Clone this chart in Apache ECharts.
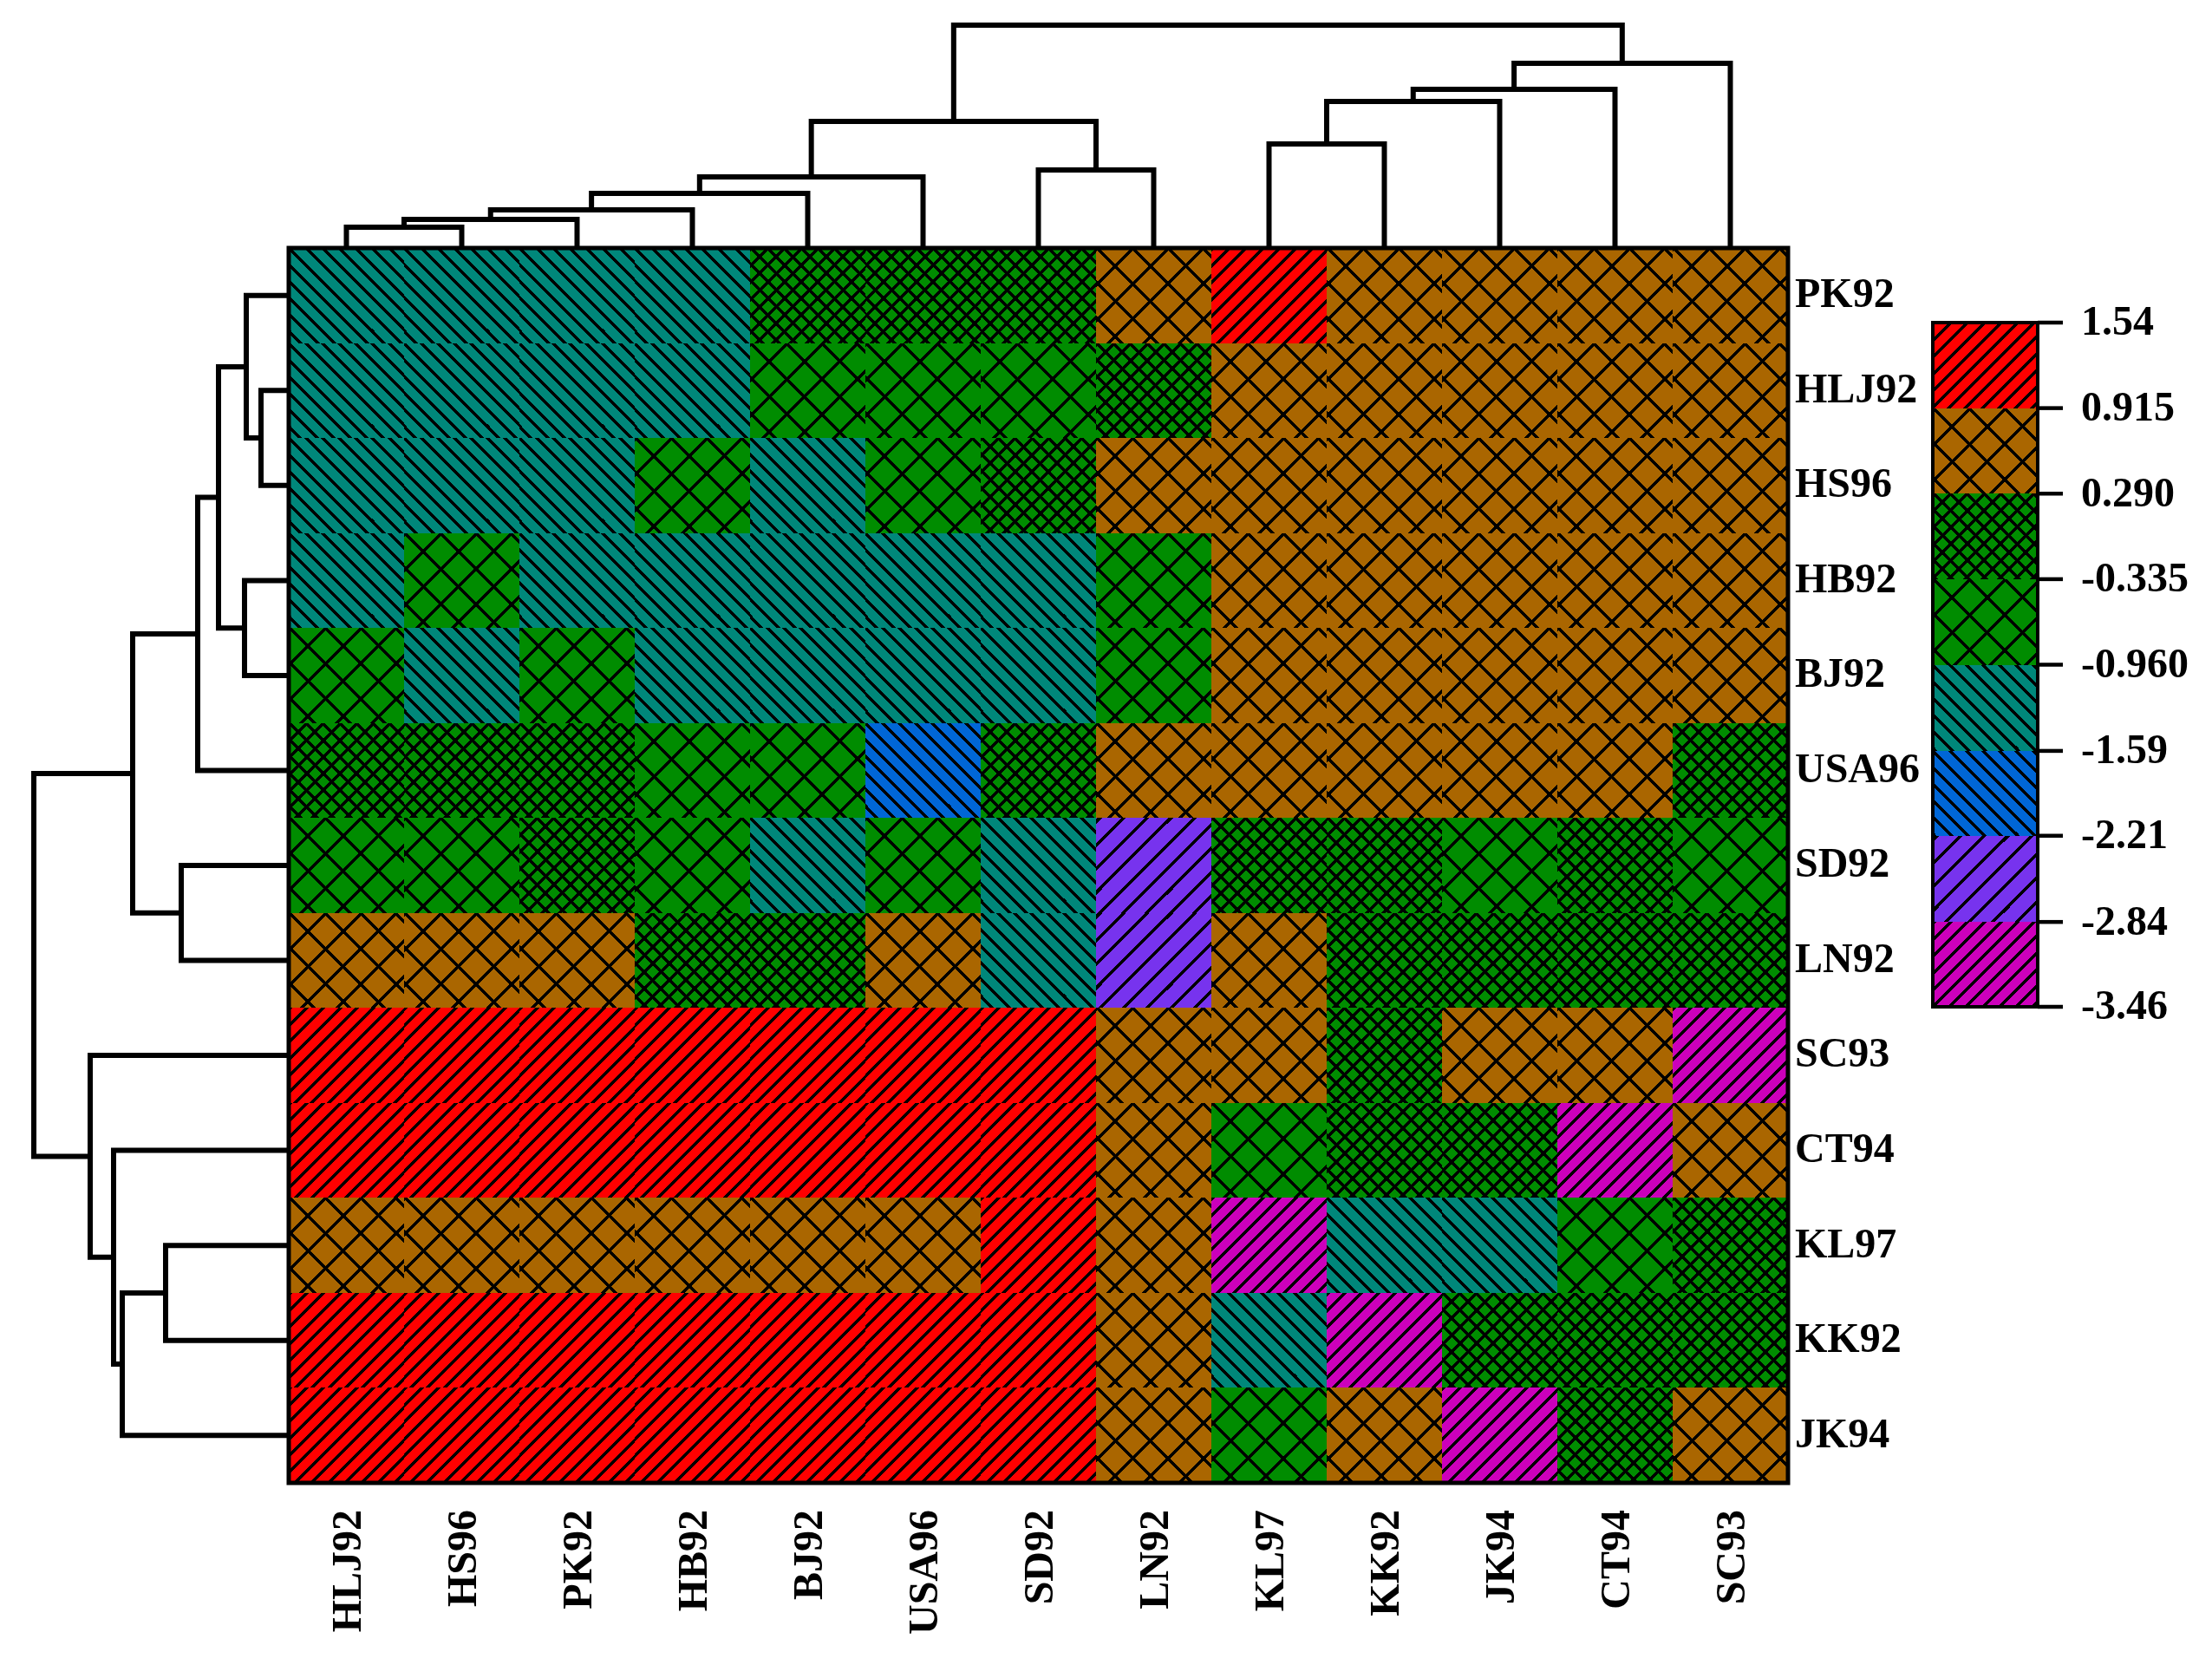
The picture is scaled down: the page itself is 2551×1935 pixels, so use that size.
<!DOCTYPE html>
<html>
<head>
<meta charset="utf-8">
<title>Clustered heatmap</title>
<script src="https://cdn.jsdelivr.net/npm/echarts@6/dist/echarts.min.js"></script>
<style>
    html, body { margin: 0; padding: 0; background: #fff; }
    #chart { width: 2551px; height: 1935px; }
</style>
</head>
<body>
<div id="chart"></div>
<script>
// column and row order of the heatmap
const columnNames = ['HLJ92', 'HS96', 'PK92', 'HB92', 'BJ92', 'USA96', 'SD92', 'LN92', 'KL97', 'KK92', 'JK94', 'CT94', 'SC93'];
const rowNames = ['PK92', 'HLJ92', 'HS96', 'HB92', 'BJ92', 'USA96', 'SD92', 'LN92', 'SC93', 'CT94', 'KL97', 'KK92', 'JK94'];

// colour key, top to bottom
const legendTicks = [1.54, 0.915, 0.29, -0.335, -0.96, -1.59, -2.21, -2.84, -3.46];
const legendLabels = ['1.54', '0.915', '0.290', '-0.335', '-0.960', '-1.59', '-2.21', '-2.84', '-3.46'];

// cell values, only the key band can be read from the picture so these are band estimates
const cellValues = [
    [-1.27, -1.27, -1.27, -1.27, -0.02, -0.02, -0.02, 0.6, 1.2, 0.6, 0.6, 0.6, 0.6],
    [-1.27, -1.27, -1.27, -1.27, -0.65, -0.65, -0.65, -0.02, 0.6, 0.6, 0.6, 0.6, 0.6],
    [-1.27, -1.27, -1.27, -0.65, -1.27, -0.65, -0.02, 0.6, 0.6, 0.6, 0.6, 0.6, 0.6],
    [-1.27, -0.65, -1.27, -1.27, -1.27, -1.27, -1.27, -0.65, 0.6, 0.6, 0.6, 0.6, 0.6],
    [-0.65, -1.27, -0.65, -1.27, -1.27, -1.27, -1.27, -0.65, 0.6, 0.6, 0.6, 0.6, 0.6],
    [-0.02, -0.02, -0.02, -0.65, -0.65, -1.9, -0.02, 0.6, 0.6, 0.6, 0.6, 0.6, -0.02],
    [-0.65, -0.65, -0.02, -0.65, -1.27, -0.65, -1.27, -2.52, -0.02, -0.02, -0.65, -0.02, -0.65],
    [0.6, 0.6, 0.6, -0.02, -0.02, 0.6, -1.27, -2.52, 0.6, -0.02, -0.02, -0.02, -0.02],
    [1.2, 1.2, 1.2, 1.2, 1.2, 1.2, 1.2, 0.6, 0.6, -0.02, 0.6, 0.6, -3.15],
    [1.2, 1.2, 1.2, 1.2, 1.2, 1.2, 1.2, 0.6, -0.65, -0.02, -0.02, -3.15, 0.6],
    [0.6, 0.6, 0.6, 0.6, 0.6, 0.6, 1.2, 0.6, -3.15, -1.27, -1.27, -0.65, -0.02],
    [1.2, 1.2, 1.2, 1.2, 1.2, 1.2, 1.2, 0.6, -1.27, -3.15, -0.02, -0.02, -0.02],
    [1.2, 1.2, 1.2, 1.2, 1.2, 1.2, 1.2, 0.6, -0.65, 0.6, -3.15, -0.02, 0.6]
];

// dendrogram merges: [child a, child b, height]
// child >= 0 is a leaf index, child < 0 is merge number -child (1-based)
const topMerges = [
    [0, 1, 24], [-1, 2, 33], [-2, 3, 44], [-3, 4, 63], [-4, 5, 82], [6, 7, 90],
    [-5, -6, 146], [8, 9, 120], [-8, 10, 169], [-9, 11, 183], [-10, 12, 213], [-7, -11, 257]
];
const leftMerges = [
    [1, 2, 32], [0, -1, 49], [3, 4, 51], [-2, -3, 81], [-4, 5, 105], [6, 7, 124],
    [-5, -6, 180], [10, 11, 142], [-8, 12, 192], [9, -9, 202], [8, -10, 229], [-7, -11, 294]
];

// key band styles, top band first
const bandColors = ['#ff0000', '#aa6600', '#008c00', '#008c00', '#00877a', '#0066d6', '#7733ee', '#cc00bb'];
const bandHatches = [
    { dir: 'up', period: 19.2, count: 5, phase: 1 },
    { dir: 'cross', period: 40.67, count: 3, phase: 1.3 },
    { dir: 'cross', period: 19.2, count: 5, phase: 1 },
    { dir: 'cross', period: 40.67, count: 3, phase: 1.3 },
    { dir: 'down', period: 19.2, count: 5, phase: 0.5 },
    { dir: 'down', period: 19.2, count: 5, phase: 0.5 },
    { dir: 'up', period: 27.33, count: 3, phase: 3.5 },
    { dir: 'up', period: 19.2, count: 5, phase: 1 }
];

const FONT = '"Liberation Serif", "Times New Roman", serif';
const HATCH_RUN = 5; // horizontal width of a hatch line in px
const KEY_TICK_END = 1.24; // key tick end on the key's 0..1 x axis

// draws a repeatable hatch tile pixel by pixel, the original is not anti-aliased
function makeTile(color, hatch) {
    const size = Math.round(hatch.period * hatch.count);
    const canvas = document.createElement('canvas');
    canvas.width = size;
    canvas.height = size;
    const ctx = canvas.getContext('2d');
    ctx.fillStyle = color;
    ctx.fillRect(0, 0, size, size);
    ctx.fillStyle = '#000';
    const period = size / hatch.count;
    const onLine = v => {
        const m = ((v - hatch.phase + HATCH_RUN / 2) % period + period) % period;
        return m < HATCH_RUN;
    };
    for (let y = 0; y < size; y++) {
        for (let x = 0; x < size; x++) {
            const up = onLine(x + y);
            const down = onLine(x - y);
            if ((hatch.dir !== 'down' && up) || (hatch.dir !== 'up' && down)) {
                ctx.fillRect(x, y, 1, 1);
            }
        }
    }
    return canvas;
}

const bandTiles = bandColors.map((color, i) => makeTile(color, bandHatches[i]));

function bandOf(value) {
    for (let i = 0; i < legendTicks.length - 1; i++) {
        if (value <= legendTicks[i] && value >= legendTicks[i + 1]) return i;
    }
    return 0;
}

// every cell restarts its own hatch at its top left corner
function hatchedRect(x, y, width, height, band) {
    return {
        type: 'rect',
        shape: { x, y, width, height },
        style: { fill: { image: bandTiles[band], repeat: 'repeat', x, y } }
    };
}

function renderCell(params, api) {
    const center = api.coord([api.value(0), api.value(1)]);
    const size = api.size([1, 1]);
    const x = Math.round(center[0] - size[0] / 2);
    const y = Math.round(center[1] - size[1] / 2);
    const right = Math.round(center[0] + size[0] / 2);
    const bottom = Math.round(center[1] + size[1] / 2);
    return hatchedRect(x, y, right - x, bottom - y, bandOf(api.value(2)));
}

function renderBand(params, api) {
    const topLeft = api.coord([0, api.value(0)]);
    const bottomRight = api.coord([1, api.value(1)]);
    const x = Math.round(topLeft[0]);
    const y = Math.round(topLeft[1]);
    return hatchedRect(x, y, Math.round(bottomRight[0]) - x, Math.round(bottomRight[1]) - y, params.dataIndex);
}

// axisTick would not draw on the key axis, so its ticks are a small series
function renderKeyTick(params, api) {
    const from = api.coord([1, api.value(0)]);
    const to = api.coord([KEY_TICK_END, api.value(0)]);
    return {
        type: 'line',
        shape: { x1: from[0], y1: from[1], x2: to[0], y2: to[1] },
        style: { stroke: '#000', lineWidth: 4.5 }
    };
}

// turns the merge list into [posA, heightA, posB, heightB, height] rows
function layoutMerges(merges) {
    const nodes = [];
    const rows = [];
    const lookup = child => child >= 0 ? { pos: child, height: 0 } : nodes[-child - 1];
    merges.forEach(m => {
        const a = lookup(m[0]);
        const b = lookup(m[1]);
        rows.push([a.pos, a.height, b.pos, b.height, m[2]]);
        nodes.push({ pos: (a.pos + b.pos) / 2, height: m[2] });
    });
    return rows;
}

function renderMerge(sideways) {
    return function (params, api) {
        const point = (pos, height) => api.coord(sideways ? [height, pos] : [pos, height]);
        const posA = api.value(0), heightA = api.value(1);
        const posB = api.value(2), heightB = api.value(3);
        const height = api.value(4);
        return {
            type: 'polyline',
            shape: { points: [point(posA, heightA), point(posA, height), point(posB, height), point(posB, heightB)] },
            style: { fill: null, stroke: '#000', lineWidth: 6, lineJoin: 'miter' }
        };
    };
}

const cellData = [];
rowNames.forEach((row, r) => {
    columnNames.forEach((col, c) => {
        cellData.push([c, r, cellValues[r][c]]);
    });
});
const bandData = legendTicks.slice(0, -1).map((tick, i) => [tick, legendTicks[i + 1]]);

const labelStyle = { fontFamily: FONT, fontWeight: 'bold', fontSize: 48, color: '#000' };
// rich text because plain axis labels ignore padding, used to nudge the text a little
const nudged = topPad => ({
    rich: { t: Object.assign({ padding: [topPad, 0, 0, 0] }, labelStyle) }
});
const hiddenValueAxis = (gridIndex, min, max, inverse) => ({
    type: 'value', gridIndex, min, max, inverse: !!inverse, show: false
});

const option = {
    animation: false,
    backgroundColor: '#fff',
    grid: [
        // z above the series so the frames stay on top of the cells
        { left: 333, top: 286, width: 1729, height: 1424, show: true, z: 10, backgroundColor: 'transparent', borderColor: '#000', borderWidth: 5 },
        { left: 333, top: 0, width: 1729, height: 286 },
        { left: 0, top: 286, width: 333, height: 1424 },
        { left: 2229, top: 372, width: 121, height: 789, show: true, z: 10, backgroundColor: 'transparent', borderColor: '#000', borderWidth: 4 }
    ],
    xAxis: [
        {
            type: 'category', gridIndex: 0, data: columnNames, position: 'bottom',
            axisLine: { show: false }, axisTick: { show: false }, splitLine: { show: false },
            axisLabel: Object.assign({ interval: 0, rotate: 90, margin: 31, formatter: '{t|{value}}' }, nudged(8))
        },
        hiddenValueAxis(1, -0.5, 12.5),
        hiddenValueAxis(2, 0, 333, true),
        hiddenValueAxis(3, 0, 1)
    ],
    yAxis: [
        {
            type: 'category', gridIndex: 0, data: rowNames, inverse: true, position: 'right',
            axisLine: { show: false }, axisTick: { show: false }, splitLine: { show: false },
            axisLabel: Object.assign({ interval: 0, margin: 8, formatter: '{t|{value}}' }, nudged(2))
        },
        hiddenValueAxis(1, 0, 286),
        hiddenValueAxis(2, -0.5, 12.5, true),
        {
            type: 'value', gridIndex: 3, position: 'right', min: -3.46, max: 1.54,
            axisLine: { show: false },
            splitLine: { show: false },
            axisTick: { show: false },
            axisLabel: Object.assign({
                margin: 50,
                customValues: legendTicks,
                formatter: v => '{t|' + legendLabels[legendTicks.indexOf(v)] + '}'
            }, nudged(4))
        }
    ],
    series: [
        { type: 'custom', xAxisIndex: 0, yAxisIndex: 0, renderItem: renderCell, data: cellData, encode: { x: 0, y: 1 }, silent: true },
        { type: 'custom', xAxisIndex: 1, yAxisIndex: 1, renderItem: renderMerge(false), data: layoutMerges(topMerges), silent: true, clip: false },
        { type: 'custom', xAxisIndex: 2, yAxisIndex: 2, renderItem: renderMerge(true), data: layoutMerges(leftMerges), silent: true, clip: false },
        { type: 'custom', xAxisIndex: 3, yAxisIndex: 3, renderItem: renderBand, data: bandData, silent: true },
        { type: 'custom', xAxisIndex: 3, yAxisIndex: 3, renderItem: renderKeyTick, data: legendTicks.map(t => [t]), silent: true, clip: false }
    ]
};

const chart = echarts.init(document.getElementById('chart'));
chart.setOption(option);
</script>
</body>
</html>
